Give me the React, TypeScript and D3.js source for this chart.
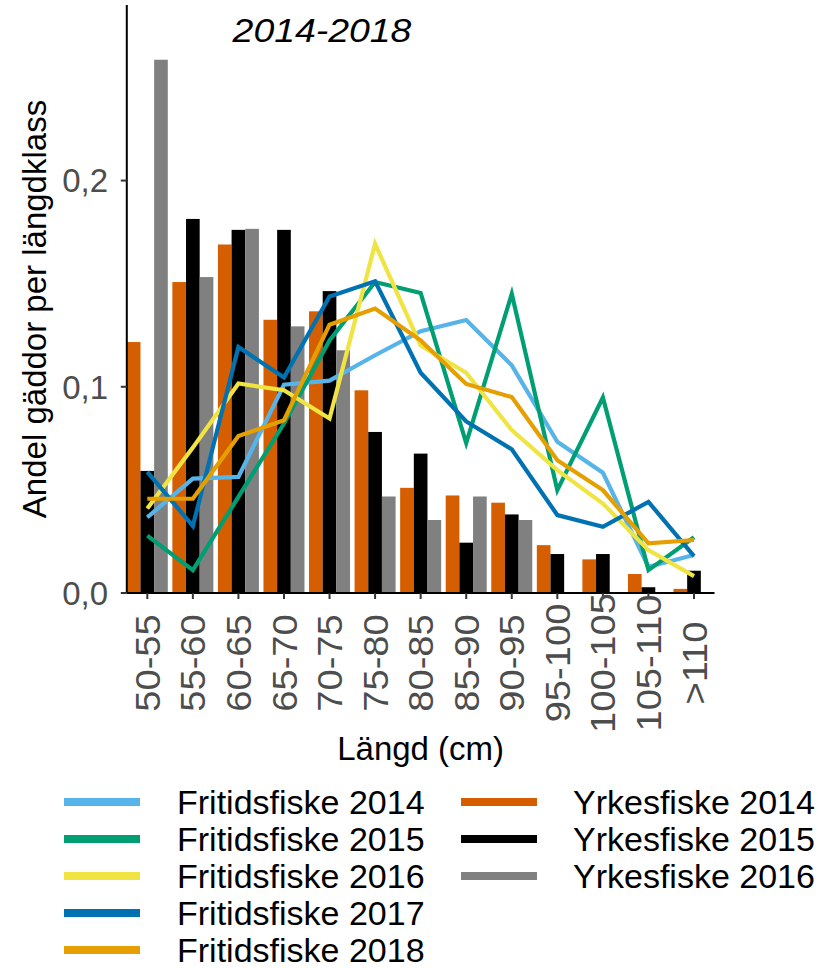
import React from "react";
import * as d3 from "d3";

const categories = ["50-55", "55-60", "60-65", "65-70", "70-75", "75-80", "80-85", "85-90", "90-95", "95-100", "100-105", "105-110", ">110"];

const yrkes2014 = [0.1217, 0.1508, 0.169, 0.1325, 0.1366, 0.0983, 0.051, 0.0473, 0.0438, 0.0232, 0.0163, 0.0092, 0.002];
const yrkes2015 = [0.0592, 0.1814, 0.1761, 0.1761, 0.1464, 0.0781, 0.0676, 0.0244, 0.0381, 0.0189, 0.0189, 0.0028, 0.0108];
const yrkes2016 = [0.2586, 0.1532, 0.1766, 0.1293, 0.1177, 0.0468, 0.0354, 0.0468, 0.0354, null, null, null, null];

const fritid2014 = [0.0367, 0.0555, 0.0563, 0.101, 0.103, 0.1153, 0.127, 0.1324, 0.1104, 0.0733, 0.0583, 0.0127, 0.0184];
const fritid2015 = [0.0278, 0.0111, 0.0466, 0.0822, 0.1225, 0.1508, 0.1455, 0.0727, 0.1451, 0.0499, 0.0948, 0.0111, 0.027];
const fritid2016 = [0.041, 0.0705, 0.1016, 0.0983, 0.0846, 0.1693, 0.12, 0.1068, 0.079, 0.0596, 0.0434, 0.0208, 0.0082];
const fritid2017 = [0.0587, 0.0325, 0.1193, 0.1045, 0.1438, 0.1512, 0.1068, 0.0832, 0.0697, 0.0378, 0.0321, 0.0442, 0.0179];
const fritid2018 = [0.0457, 0.0457, 0.0761, 0.0838, 0.1301, 0.1379, 0.1225, 0.1014, 0.095, 0.0644, 0.0499, 0.0241, 0.0257];

const yTicks = [0, 0.1, 0.2];
const yTickLabels = ["0,0", "0,1", "0,2"];

const barSeries = [
  { name: "Yrkesfiske 2014", values: yrkes2014, color: "#D55E00" },
  { name: "Yrkesfiske 2015", values: yrkes2015, color: "#000000" },
  { name: "Yrkesfiske 2016", values: yrkes2016, color: "#808080" },
];

const lineSeries = [
  { name: "Fritidsfiske 2014", values: fritid2014, color: "#56B4E9" },
  { name: "Fritidsfiske 2015", values: fritid2015, color: "#009E73" },
  { name: "Fritidsfiske 2016", values: fritid2016, color: "#F0E442" },
  { name: "Fritidsfiske 2017", values: fritid2017, color: "#0072B2" },
  { name: "Fritidsfiske 2018", values: fritid2018, color: "#E69F00" },
];

const FONT = "'Liberation Sans', Arial, sans-serif";

export default function App() {
  const W = 818;
  const H = 968;
  const x = d3.scalePoint<string>().domain(categories).range([147.3, 694]);
  const step = x.step();
  const panelLeft = (x(categories[0]) as number) - 0.45 * step;
  const panelRight = (x(categories[categories.length - 1]) as number) + 0.45 * step;
  const y = d3.scaleLinear().domain([0, 0.285]).range([593, 5.3]);
  const barW = 0.3 * step;

  const line = d3
    .line<number>()
    .x((_, i) => x(categories[i]) as number)
    .y((d) => y(d));

  return (
    <svg width={W} height={H} style={{ display: "block", position: "absolute", left: 0, top: 0 }} fontFamily={FONT}>
      <rect width={W} height={H} fill="#fff" />
      {/* bars */}
      {barSeries.map((s, si) =>
        s.values.map((v, i) =>
          v == null ? null : (
            <rect
              key={s.name + i}
              x={(x(categories[i]) as number) - 1.5 * barW + si * barW}
              y={y(v)}
              width={barW}
              height={y(0) - y(v)}
              fill={s.color}
            />
          )
        )
      )}
      {/* lines */}
      {lineSeries.map((s) => (
        <path key={s.name} d={line(s.values) || ""} fill="none" stroke={s.color} strokeWidth={4.2} strokeLinejoin="miter" strokeMiterlimit={10} />
      ))}
      {/* axes */}
      <line x1={panelLeft} x2={panelLeft} y1={5} y2={y(0)} stroke="#000" strokeWidth={2} />
      <line x1={panelLeft} x2={panelRight} y1={y(0)} y2={y(0)} stroke="#000" strokeWidth={2} />
      {yTicks.map((t, i) => (
        <g key={"yt" + i}>
          <line x1={panelLeft - 6} x2={panelLeft} y1={y(t)} y2={y(t)} stroke="#333" strokeWidth={2} />
          <text x={108} y={y(t)} dy="0.36em" textAnchor="end" fontSize={33} fill="#4D4D4D">
            {yTickLabels[i]}
          </text>
        </g>
      ))}
      {categories.map((c) => (
        <g key={"xt" + c}>
          <line x1={x(c) as number} x2={x(c) as number} y1={y(0)} y2={y(0) + 6} stroke="#333" strokeWidth={2} />
          <text
            transform={`translate(${x(c)},663) rotate(-90) scale(1.09,1)`}
            dy="0.36em"
            textAnchor="middle"
            fontSize={35}
            fill="#4D4D4D"
          >
            {c}
          </text>
        </g>
      ))}
      <text x={(panelLeft + panelRight) / 2} y={760} textAnchor="middle" fontSize={33} fill="#000">
        Längd (cm)
      </text>
      <text transform={`translate(46,309) rotate(-90)`} textAnchor="middle" fontSize={33} fill="#000">
        Andel gäddor per längdklass
      </text>
      <text transform="translate(322,42) scale(1.1,1)" textAnchor="middle" fontSize={34} fontStyle="italic" fill="#000">
        2014-2018
      </text>
      {/* legend */}
      {lineSeries.map((s, i) => (
        <g key={"lg" + s.name}>
          <line x1={64} x2={140} y1={802 + i * 37} y2={802 + i * 37} stroke={s.color} strokeWidth={8} />
          <text x={177} y={802 + i * 37} dy="0.36em" fontSize={34} fill="#000">
            {s.name}
          </text>
        </g>
      ))}
      {barSeries.map((s, i) => (
        <g key={"lb" + s.name}>
          <line x1={461} x2={537} y1={802 + i * 37} y2={802 + i * 37} stroke={s.color} strokeWidth={8} />
          <text x={573} y={802 + i * 37} dy="0.36em" fontSize={34} fill="#000">
            {s.name}
          </text>
        </g>
      ))}
    </svg>
  );
}
